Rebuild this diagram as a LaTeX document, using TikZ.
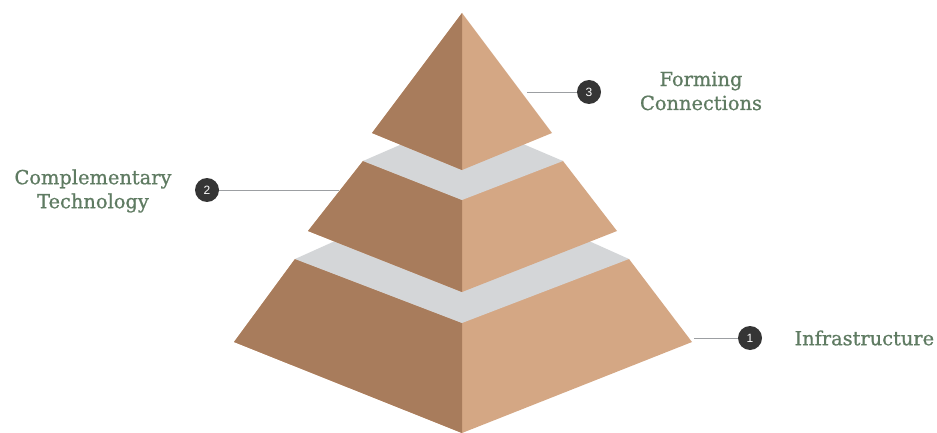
\documentclass[tikz,border=0pt]{standalone}
\usepackage{fontspec}
\newfontfamily\labelfont[FakeBold=0.9]{DejaVu Serif}
\newfontfamily\numfont{Liberation Sans}
\usetikzlibrary{positioning}
\definecolor{facedark}{HTML}{A87C5C}
\definecolor{facelight}{HTML}{D4A784}
\definecolor{topgray}{HTML}{D4D6D8}
\definecolor{labelgreen}{HTML}{5F7B62}
\definecolor{numdark}{HTML}{353535}
\definecolor{leadgray}{HTML}{9C9FA2}

\tikzset{
  numdot/.style={circle, fill=numdark, minimum size=24pt, inner sep=0pt, text=white, font=\numfont\fontsize{12}{14}\selectfont},
  tiertext/.style={text=labelgreen, align=center, font=\labelfont\fontsize{19.4}{24}\selectfont},
  leader/.style={draw=leadgray, line width=0.8pt},
}

\begin{document}
\begin{tikzpicture}[x=1pt,y=-1pt]
\useasboundingbox (0,0) rectangle (937,433);
% bottom tier
\fill [facelight] (295,259) -- (629,259) -- (692,342) -- (462,433) -- (234,342) -- cycle;
\fill [facedark] (462,323) -- (295,259) -- (234,342) -- (462,433) -- cycle;
\fill [topgray] (295,259) -- (462,184) -- (629,259) -- (462,323) -- cycle;
% middle tier
\fill [facelight] (363,161) -- (563,161) -- (617,231) -- (462,292) -- (308,231) -- cycle;
\fill [facedark] (462,200) -- (363,161) -- (308,231) -- (462,292) -- cycle;
\fill [topgray] (363,161) -- (462,118) -- (563,161) -- (462,200) -- cycle;
% top tier
\fill [facelight] (462,13) -- (552,133) -- (462,170) -- (372,133) -- cycle;
\fill [facedark] (462,13) -- (462,170) -- (372,133) -- cycle;

% leaders and labels
\coordinate (e1) at (694,338);
\coordinate (e2) at (339,190);
\coordinate (e3) at (527,92);
\node [numdot] (n1) at (750,338) {1};
\node [numdot] (n2) at (207,190) {2};
\node [numdot] (n3) at (589,92) {3};
\draw [leader] (e1) -- (n1);
\draw [leader] (e2) -- (n2);
\draw [leader] (e3) -- (n3);
\node [tiertext, anchor=west] (t1) at (791,338) {Infrastructure};
\node [tiertext] (t2) at (93,191) {Complementary\\Technology};
\node [tiertext] (t3) at (701,91) {Forming\\Connections};
\end{tikzpicture}
\end{document}
